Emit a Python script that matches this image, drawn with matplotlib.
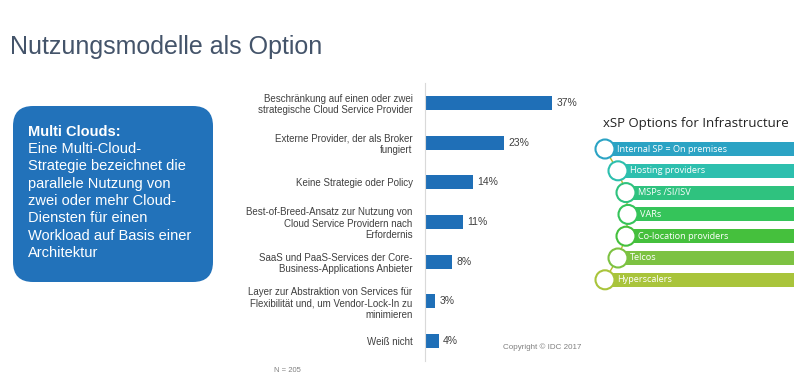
import matplotlib
matplotlib.use("Agg")
import matplotlib.pyplot as plt
from matplotlib.patches import FancyBboxPatch, Circle, Rectangle

# ---- data ----
categories = [
    "Beschränkung auf einen oder zwei\nstrategische Cloud Service Provider",
    "Externe Provider, der als Broker\nfungiert",
    "Keine Strategie oder Policy",
    "Best-of-Breed-Ansatz zur Nutzung von\nCloud Service Providern nach\nErfordernis",
    "SaaS und PaaS-Services der Core-\nBusiness-Applications Anbieter",
    "Layer zur Abstraktion von Services für\nFlexibilität und, um Vendor-Lock-In zu\nminimieren",
    "Weiß nicht",
]
values = [37, 23, 14, 11, 8, 3, 4]

title = "Nutzungsmodelle als Option"
box_head = "Multi Clouds:"
box_text = ("Eine Multi-Cloud-\nStrategie bezeichnet die\nparallele Nutzung von\n"
            "zwei oder mehr Cloud-\nDiensten für einen\nWorkload auf Basis einer\nArchitektur")

xsp_title = "xSP Options for Infrastructure"
xsp_items = ["Internal SP = On premises", "Hosting providers", "MSPs /SI/ISV", "VARs",
             "Co-location providers", "Telcos", "Hyperscalers"]
xsp_colors = ["#2ba3c4", "#2dbfae", "#2fc27f", "#35c45a", "#45c03d", "#7dc242", "#a9c43b"]
xsp_indent = [0, 13, 21, 23, 21, 13, 0]   # layout offsets (px)

copyright_txt = "Copyright © IDC 2017"
n_txt = "N = 205"

W, H = 800, 378
fig = plt.figure(figsize=(W / 100, H / 100), dpi=100)
fig.patch.set_facecolor("white")

# ---- overlay in pixel coords ----
ov = fig.add_axes([0, 0, 1, 1])
ov.set_xlim(0, W)
ov.set_ylim(H, 0)
ov.axis("off")

# ---- bar chart ----
ax = fig.add_axes([425 / W, 1 - 361 / H, 137 / W, 278 / H])
ax.patch.set_alpha(0)
ypos = list(range(len(values)))
ax.barh(ypos, values, height=0.35, color="#1f6fb7")
ax.set_ylim(len(values) - 0.5, -0.5)
ax.set_xlim(0, 40)
ax.set_yticks(ypos)
ax.set_yticklabels(categories, fontsize=7, color="#404040", family="Liberation Sans",
                   linespacing=1.2)
ax.tick_params(axis="y", length=0, pad=9)
ax.set_xticks([])
for s in ["top", "right", "bottom"]:
    ax.spines[s].set_visible(False)
ax.spines["left"].set_color("#d9d9d9")
ax.spines["left"].set_linewidth(0.8)
for y, v in zip(ypos, values):
    ax.text(v + 1.3, y, f"{v}%", va="center", ha="left", fontsize=7.5,
            color="#404040", family="Liberation Sans")

fig.text(10 / W, 1 - 47 / H, title, fontsize=18, color="#44546a",
         family="Liberation Sans", va="center", ha="left")

box = FancyBboxPatch((13 + 20, 106 + 20), 200 - 40, 176 - 40,
                     boxstyle="round,pad=20", facecolor="#2272ba", edgecolor="none")
ov.add_patch(box)
ov.text(28, 132, box_head, fontsize=10.5, fontweight="bold", color="white",
        family="Liberation Sans", va="center", ha="left")
ov.text(28, 142, box_text, fontsize=10.5, color="white", family="Liberation Sans",
        va="top", ha="left", linespacing=1.3)

# xSP diagram
ov.text(696, 123, xsp_title, fontsize=9.5, color="#222222", family="Open Sans",
        va="center", ha="center")
cx0, cy0, dy, r = 605, 149, 21.8, 9.5
centers = [(cx0 + ind, cy0 + i * dy) for i, ind in enumerate(xsp_indent)]
ov.plot([c[0] for c in centers], [c[1] for c in centers], color="#b8b82c", lw=1.0, zorder=1)
for (cx, cy), lab, col in zip(centers, xsp_items, xsp_colors):
    ov.add_patch(Rectangle((cx, cy - 7), 794 - cx, 14, facecolor=col, edgecolor="none", zorder=2))
    ov.add_patch(Circle((cx, cy), r, facecolor="white", edgecolor=col, lw=1.5, zorder=3))
    ov.text(cx + 12, cy, lab, fontsize=6.6, color="white", family="Open Sans",
            va="center", ha="left", zorder=4)

ov.text(503, 347, copyright_txt, fontsize=5.8, color="#808080", family="Liberation Sans",
        va="center", ha="left")
ov.text(287, 371, n_txt, fontsize=5.5, color="#808080", family="Liberation Sans",
        va="center", ha="center")

fig.savefig("out.png", dpi=100, facecolor="white")
